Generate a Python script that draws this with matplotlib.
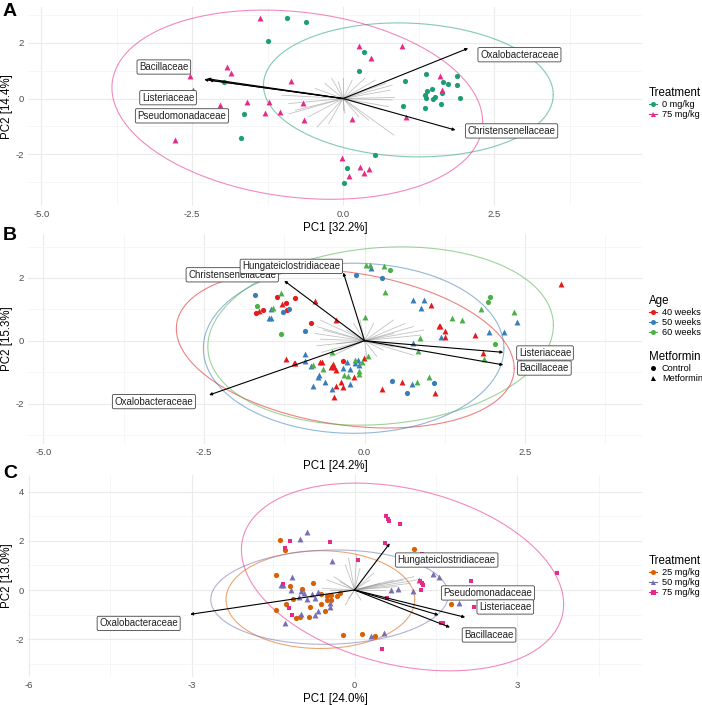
import numpy as np
import matplotlib
matplotlib.use("Agg")
import matplotlib.pyplot as plt
from matplotlib.lines import Line2D

plt.rcParams['font.family'] = ['Liberation Sans', 'DejaVu Sans']

# ---------------- Panel A data ----------------
A_ctrl_x = [-0.93, -0.61, -1.24, -1.98, -1.65, -1.69, 0.07, 0.02, 0.27, 0.34, 1.02, 0.99, 0.52,
            1.37, 1.88, 1.65, 1.73, 1.89, 1.47, 1.39, 1.64, 1.36, 1.37, 1.49, 1.52, 1.94, 1.62, 1.36]
A_ctrl_y = [2.88, 2.75, 2.06, 0.59, -0.56, -1.40, -2.48, -3.03, 1.00, 1.67, 0.63, -0.25, -2.01,
            0.88, 0.82, 0.58, 0.52, 0.48, 0.34, 0.28, 0.21, 0.12, 0.02, 0.00, 0.06, 0.03, -0.19, -0.35]
A_75_x = [-1.37, 0.27, 0.97, 0.46, -1.86, -0.86, -1.60, -1.23, -0.66, -1.30, -1.04, -0.65, 0.15,
          1.04, 1.61, 1.64, -0.02, 0.28, 0.43, 0.34, 0.10, -1.93, -2.53, -2.49, -2.04, -2.78]
A_75_y = [2.90, 1.90, 1.90, 1.44, 0.93, 0.62, -0.12, -0.12, -0.16, -0.53, -0.48, -0.77, -0.73,
          -0.67, 0.82, 0.31, -2.12, -2.46, -2.51, -2.65, -2.76, 1.12, 0.80, 0.31, -0.24, -1.48]
A_groups = ["0 mg/kg", "75 mg/kg"]
# ellipse: cx, cy, sx, sy, rho
A_ell_ctrl = [1.08, 0.31, 2.40, 2.40, -0.07]
A_ell_75 = [-0.76, -0.22, 3.07, 3.39, -0.18]
A_arrow_names = ["Bacillaceae", "Listeriaceae", "Pseudomonadaceae", "Oxalobacteraceae", "Christensenellaceae"]
A_arrow_x = [-2.30, -2.25, -2.22, 2.07, 1.86]
A_arrow_y = [0.68, 0.71, 0.66, 1.80, -1.13]
A_label_x = [-2.97, -2.90, -2.67, 2.92, 2.79]
A_label_y = [1.13, 0.03, -0.62, 1.57, -1.16]
A_gray_x = [-0.19, 0.0, 0.15, 0.36, 0.53, 0.70, 0.81, 0.78, 0.85, 0.81, 0.75, 0.64, 0.84, 0.42, 0.26,
            0.03, 0.0, -0.24, -0.43, -0.57, -0.90, -0.79, -0.90, -1.01, -0.68, -0.46, -0.30, -0.08]
A_gray_y = [0.73, 0.73, 0.66, 0.73, 0.66, 0.54, 0.48, 0.30, 0.04, -0.05, -0.29, -0.41, -1.31, -0.77, -0.65,
            -0.53, -0.42, -0.90, -1.02, -0.65, -0.55, -0.42, -0.18, 0.12, 0.24, 0.36, 0.54, 0.60]

# ---------------- Panel B data ----------------
B_red_c_x = [-1.09, -1.23, -1.37, -1.58, -1.69, -1.20, -0.83, -0.33]
B_red_c_y = [1.36, 1.19, 1.38, 0.98, 0.88, 0.98, 0.57, -0.65]
B_red_t_x = [-1.29, -1.64, -0.77, -0.45, -1.22, -1.10, -1.08, -0.69, -0.66, -0.52, -0.49, -0.45, -0.47,
             -0.37, -0.44, -0.34, -0.48, -0.16, -0.01, 0.27, 0.59, 1.09, 1.04, 1.16, 1.18, 1.25, 1.25,
             1.72, 1.84, 2.42, 3.06]
B_red_t_y = [1.17, 0.96, 1.27, 0.66, -0.59, -0.72, -0.70, -0.69, -0.69, -0.83, -0.75, -0.93, -0.85,
             -1.33, -1.44, -1.49, -1.79, -1.17, -0.56, -1.54, -1.33, -1.68, 1.13, 0.48, 0.46, 0.30, 0.13,
             0.18, -0.38, -0.67, 1.81]
B_blue_c_x = [-1.71, -1.18, -1.27, -0.93, -0.13, 0.27, 0.43, 0.66, 1.08]
B_blue_c_y = [1.46, 1.01, 0.90, 0.30, 2.08, 2.01, -1.27, -1.68, -1.34]
B_blue_t_x = [-1.45, -1.48, -1.45, -0.92, -0.93, -0.84, -0.71, -0.73, -0.80, -0.615, -0.28, -0.33, -0.23,
              -0.51, -0.22, -0.15, -0.08, -0.10, 0.10, 0.74, 0.76, 0.75, 0.93, 0.88, 1.19, 1.93, 2.17, 2.38]
B_blue_t_y = [1.02, 0.71, 0.73, -0.42, -0.64, -0.80, -1.09, -1.14, -1.44, -1.30, -0.67, -0.87, -0.91,
              -1.53, -1.38, -0.70, -0.78, -0.62, 2.32, -1.38, -0.08, 1.31, 1.30, 1.04, 0.13, 0.29, 0.29, 0.61]
B_green_c_x = [-1.68, -1.30, 0.40, 1.92, 1.95, 2.03]
B_green_c_y = [1.10, 0.20, 2.26, 1.23, 1.39, -0.10]
B_green_t_x = [-1.30, -1.42, -0.81, -0.65, -0.51, -0.32, -0.25, -0.15, -0.04, 0.05, -0.08, -0.08, 0.0,
               0.32, 0.02, 0.08, 0.30, 0.82, 1.00, 0.83, 0.87, 1.36, 1.51, 1.82, 2.33, 1.86]
B_green_t_y = [1.53, 1.04, -0.76, -0.91, -0.36, -1.09, -1.11, -0.62, -0.69, -0.49, -0.98, -1.06, 0.74,
               1.56, 2.42, 2.42, 2.39, -1.31, -1.15, -0.32, 0.08, 0.71, 0.66, 1.02, 0.91, -0.57]
B_ages = ["40 weeks", "50 weeks", "60 weeks"]
B_met = ["Control", "Metformin"]
B_ell_40 = [-0.30, -0.25, 2.63, 2.53, -0.25]
B_ell_50 = [-0.17, -0.24, 2.34, 2.71, 0.0]
B_ell_60 = [0.25, 0.15, 2.69, 2.84, 0.12]
B_arrow_names = ["Christensenellaceae", "Hungateiclostridiaceae", "Oxalobacteraceae", "Listeriaceae", "Bacillaceae"]
B_arrow_x = [-1.25, -0.33, -2.42, 2.16, 2.16]
B_arrow_y = [1.91, 2.17, -1.73, -0.37, -0.77]
B_label_x = [-2.06, -1.14, -3.28, 2.81, 2.80]
B_label_y = [2.10, 2.37, -1.94, -0.39, -0.87]
B_gray_x = [-0.69, -0.74, -0.77, -0.69, -0.74, -0.67, -0.54, -0.38, -0.28, -0.17, 0.14, 0.45, 0.63,
            0.76, 0.92, 0.87, 0.76, 0.66, 0.45, 0.29, 0.19, 0.04, -0.07, -0.43, -0.64, 0.45]
B_gray_y = [0.66, 0.45, 0.23, 0.05, -0.16, -0.37, -0.52, -0.30, 0.34, 0.55, 0.55, 0.66, 0.55,
            0.45, 0.34, 0.18, -0.46, -0.20, -0.20, -0.30, -0.50, -0.56, 0.66, -0.10, 0.34, 0.23]

# ---------------- Panel C data ----------------
C_25_x = [-1.37, -1.28, -1.44, -0.76, -1.19, -0.96, -1.14, -1.26, -1.44, -0.82, -0.62, -0.54, -0.61,
          -0.51, -0.50, -0.44, -0.43, -0.33, -0.27, -1.07, -1.01, -0.84, -0.22, 0.13, 0.37, 1.09, 1.77]
C_25_y = [2.04, 1.62, 0.60, 0.30, 0.16, 0.03, -0.38, -0.57, -0.81, -0.68, -0.57, -0.84, -0.16,
          -0.26, -0.39, -0.39, -0.20, -0.26, -0.14, -1.15, -1.09, -1.09, -1.85, -1.80, -1.88, 1.66, -0.57]
C_50_x = [-0.88, -1.00, -0.41, -1.15, -1.36, -1.31, -1.17, -0.99, -0.93, -0.79, -1.03, -0.87, -0.72,
          -0.68, -0.45, -0.46, -0.68, -0.73, -0.99, -1.28, 0.30, 0.54, 0.68, 0.81, 1.07, 1.18, 1.45,
          1.56, 1.93]
C_50_y = [2.38, 2.09, 1.19, 0.54, 0.20, 0.20, 0.00, -0.03, -0.11, -0.16, -0.27, -0.36, -0.32,
          -0.07, -0.52, -0.71, -0.84, -1.02, -0.98, -1.33, -1.88, -1.75, 0.00, 0.03, -0.04, 0.41, 0.66,
          0.54, -0.52]
C_75_x = [-1.19, -1.29, -0.46, 0.06, -1.32, -1.21, -1.16, 0.58, 0.61, 0.63, 0.83, 0.57, 1.24, 1.21,
          1.24, 1.26, 1.22, 0.59, 1.60, 1.64, 0.51, 3.73, 2.15, 2.21, 2.49, 2.12]
C_75_y = [2.01, 1.70, 1.96, 1.22, 0.26, -0.73, -1.00, 3.01, 2.88, 2.79, 2.69, 1.93, 1.47, 0.36,
          0.29, 0.22, 0.00, -0.31, -1.36, -1.36, -2.40, 0.68, 0.38, -0.71, -0.37, -2.00]
C_groups = ["25 mg/kg", "50 mg/kg", "75 mg/kg"]
C_ell_25 = [-0.63, -0.39, 1.74, 1.99, 0.0]
C_ell_50 = [-0.46, -0.29, 2.19, 1.92, 0.05]
C_ell_75 = [0.885, 0.53, 2.97, 3.82, -0.29]
C_arrow_names = ["Oxalobacteraceae", "Hungateiclostridiaceae", "Pseudomonadaceae", "Listeriaceae", "Bacillaceae"]
C_arrow_x = [-3.03, 0.65, 1.55, 2.04, 1.76]
C_arrow_y = [-0.99, 1.90, -1.02, -1.11, -1.52]
C_label_x = [-3.98, 1.70, 2.46, 2.78, 2.48]
C_label_y = [-1.36, 1.22, -0.12, -0.69, -1.83]
C_gray_x = [-0.11, -0.17, -0.38, -0.51, -0.60, -0.17, -0.11, 0.12, 0.28, 0.47, 0.72, 0.90, 1.09,
            1.15, 1.02, 0.78, 0.56, 0.28, 0.10, 0.04, -0.27, -0.45, 0.35]
C_gray_y = [1.29, 1.02, 0.54, 0.41, 0.07, -0.61, -0.34, -0.41, 0.41, 0.27, 0.41, 0.41, 0.54,
            0.41, 0.27, 0.14, 0.00, -0.20, 0.88, 1.43, 0.34, 0.00, 0.68]

# ---------------- styling ----------------
W, H = 702, 705
fig = plt.figure(figsize=(W / 100, H / 100), dpi=100)


def ax_at(x0, y0, x1, y1):
    return fig.add_axes([x0 / W, 1 - y1 / H, (x1 - x0) / W, (y1 - y0) / H])


GRID = '#EBEBEB'
TICKC = '#4D4D4D'


def style(ax, xlim, ylim, xmaj, xmin, ymaj, ymin, xlab, ylab, xfmt):
    ax.set_xlim(*xlim)
    ax.set_ylim(*ylim)
    ax.set_xticks(xmaj)
    ax.set_xticklabels([xfmt.format(v) for v in xmaj])
    ax.set_xticks(xmin, minor=True)
    ax.set_yticks(ymaj)
    ax.set_yticklabels([str(v) for v in ymaj])
    ax.set_yticks(ymin, minor=True)
    ax.grid(True, which='major', color=GRID, lw=0.8)
    ax.grid(True, which='minor', color='#F3F3F3', lw=0.5)
    ax.set_axisbelow(True)
    for s in ax.spines.values():
        s.set_visible(False)
    ax.tick_params(which='both', length=0, labelsize=6.8, labelcolor=TICKC, pad=3)
    ax.set_xlabel(xlab, fontsize=8.3, labelpad=2)
    ax.set_ylabel(ylab, fontsize=8.3, labelpad=2)


def ellipse(ax, p, color):
    cx, cy, sx, sy, rho = p
    t = np.linspace(0, 2 * np.pi, 200)
    x = cx + sx * np.cos(t)
    y = cy + sy * (rho * np.cos(t) + np.sqrt(1 - rho ** 2) * np.sin(t))
    ax.plot(x, y, color=color, lw=0.8, alpha=0.55, zorder=2)


def loadings(ax, gx, gy, ax_, ay_, names, lx, ly):
    for x, y in zip(gx, gy):
        ax.plot([0, x], [0, y], color='#888888', lw=0.6, alpha=0.5, zorder=1)
    for x, y in zip(ax_, ay_):
        ax.annotate('', xy=(x, y), xytext=(0, 0),
                    arrowprops=dict(arrowstyle='-|>', color='black', lw=0.8,
                                    mutation_scale=4, shrinkA=0, shrinkB=0), zorder=4)
    for n, x, y in zip(names, lx, ly):
        ax.text(x, y, n, fontsize=7, ha='center', va='center', color='#222222', zorder=6,
                bbox=dict(boxstyle='round,pad=0.22,rounding_size=0.15', fc='white', ec='#444444', lw=0.6))


def pts(ax, x, y, color, marker, s=14):
    ax.scatter(x, y, c=color, marker=marker, s=s, linewidths=0, zorder=3)


def legend_at(ax, handles, labels, title, px, py):
    leg = ax.legend(handles, labels, title=title, loc='upper left',
                    bbox_to_anchor=(px / W, 1 - py / H), bbox_transform=fig.transFigure,
                    frameon=False, fontsize=6.6, title_fontsize=8.3, handlelength=0.9,
                    handletextpad=0.5, labelspacing=0.1, borderpad=0, borderaxespad=0,
                    alignment='left')
    return leg


def key(color, marker):
    return Line2D([0], [0], color=color, marker=marker, markersize=3.6, lw=0.8,
                  markerfacecolor=color, markeredgewidth=0)


# ---------- Panel A ----------
GREEN_A, PINK = '#1B9E77', '#E7298A'
axA = ax_at(28, 7, 642, 206)
style(axA, (-5.22, 4.95), (-3.85, 3.28), [-5.0, -2.5, 0.0, 2.5], [-3.75, -1.25, 1.25, 3.75],
      [-2, 0, 2], [-3, -1, 1, 3], 'PC1 [32.2%]', 'PC2 [14.4%]', '{:.1f}')
ellipse(axA, A_ell_ctrl, GREEN_A)
ellipse(axA, A_ell_75, PINK)
loadings(axA, A_gray_x, A_gray_y, A_arrow_x, A_arrow_y, A_arrow_names, A_label_x, A_label_y)
pts(axA, A_ctrl_x, A_ctrl_y, GREEN_A, 'o')
pts(axA, A_75_x, A_75_y, PINK, '^', 18)
legend_at(axA, [key(GREEN_A, 'o'), key(PINK, '^')], A_groups, 'Treatment', 649, 87)

# ---------- Panel B ----------
RED, BLUE, GREEN = '#E41A1C', '#377EB8', '#4DAF4A'
axB = ax_at(28, 234, 642, 444)
style(axB, (-5.24, 4.32), (-3.29, 3.40), [-5.0, -2.5, 0.0, 2.5], [-3.75, -1.25, 1.25, 3.75],
      [-2, 0, 2], [-3, -1, 1, 3], 'PC1 [24.2%]', 'PC2 [15.3%]', '{:.1f}')
ellipse(axB, B_ell_40, RED)
ellipse(axB, B_ell_50, BLUE)
ellipse(axB, B_ell_60, GREEN)
loadings(axB, B_gray_x, B_gray_y, B_arrow_x, B_arrow_y, B_arrow_names, B_label_x, B_label_y)
pts(axB, B_red_c_x, B_red_c_y, RED, 'o')
pts(axB, B_red_t_x, B_red_t_y, RED, '^', 18)
pts(axB, B_blue_c_x, B_blue_c_y, BLUE, 'o')
pts(axB, B_blue_t_x, B_blue_t_y, BLUE, '^', 18)
pts(axB, B_green_c_x, B_green_c_y, GREEN, 'o')
pts(axB, B_green_t_x, B_green_t_y, GREEN, '^', 18)
legB1 = legend_at(axB, [key(RED, 'o'), key(BLUE, 'o'), key(GREEN, 'o')], B_ages, 'Age', 649, 295)
axB.add_artist(legB1)
legend_at(axB, [Line2D([0], [0], color='black', marker=m, markersize=3.6, lw=0, markeredgewidth=0)
                for m in ['o', '^']], B_met, 'Metformin', 649, 351)

# ---------- Panel C ----------
ORANGE, PURPLE = '#D95F02', '#7570B3'
axC = ax_at(28, 475, 642, 677)
style(axC, (-6.02, 5.30), (-3.54, 4.68), [-6, -3, 0, 3], [-4.5, -1.5, 1.5, 4.5],
      [-2, 0, 2, 4], [-3, -1, 1, 3], 'PC1 [24.0%]', 'PC2 [13.0%]', '{:d}')
ellipse(axC, C_ell_25, ORANGE)
ellipse(axC, C_ell_50, PURPLE)
ellipse(axC, C_ell_75, PINK)
loadings(axC, C_gray_x, C_gray_y, C_arrow_x, C_arrow_y, C_arrow_names, C_label_x, C_label_y)
pts(axC, C_25_x, C_25_y, ORANGE, 'o')
pts(axC, C_50_x, C_50_y, PURPLE, '^', 18)
pts(axC, C_75_x, C_75_y, PINK, 's', 12)
legend_at(axC, [key(ORANGE, 'o'), key(PURPLE, '^'), key(PINK, 's')], C_groups, 'Treatment', 649, 555)

# panel letters
for lab, y in [('A', 12), ('B', 236), ('C', 474)]:
    fig.text(3 / W, 1 - y / H, lab, fontsize=14, fontweight='bold', va='center', ha='left')

fig.savefig('out.png', dpi=100)
